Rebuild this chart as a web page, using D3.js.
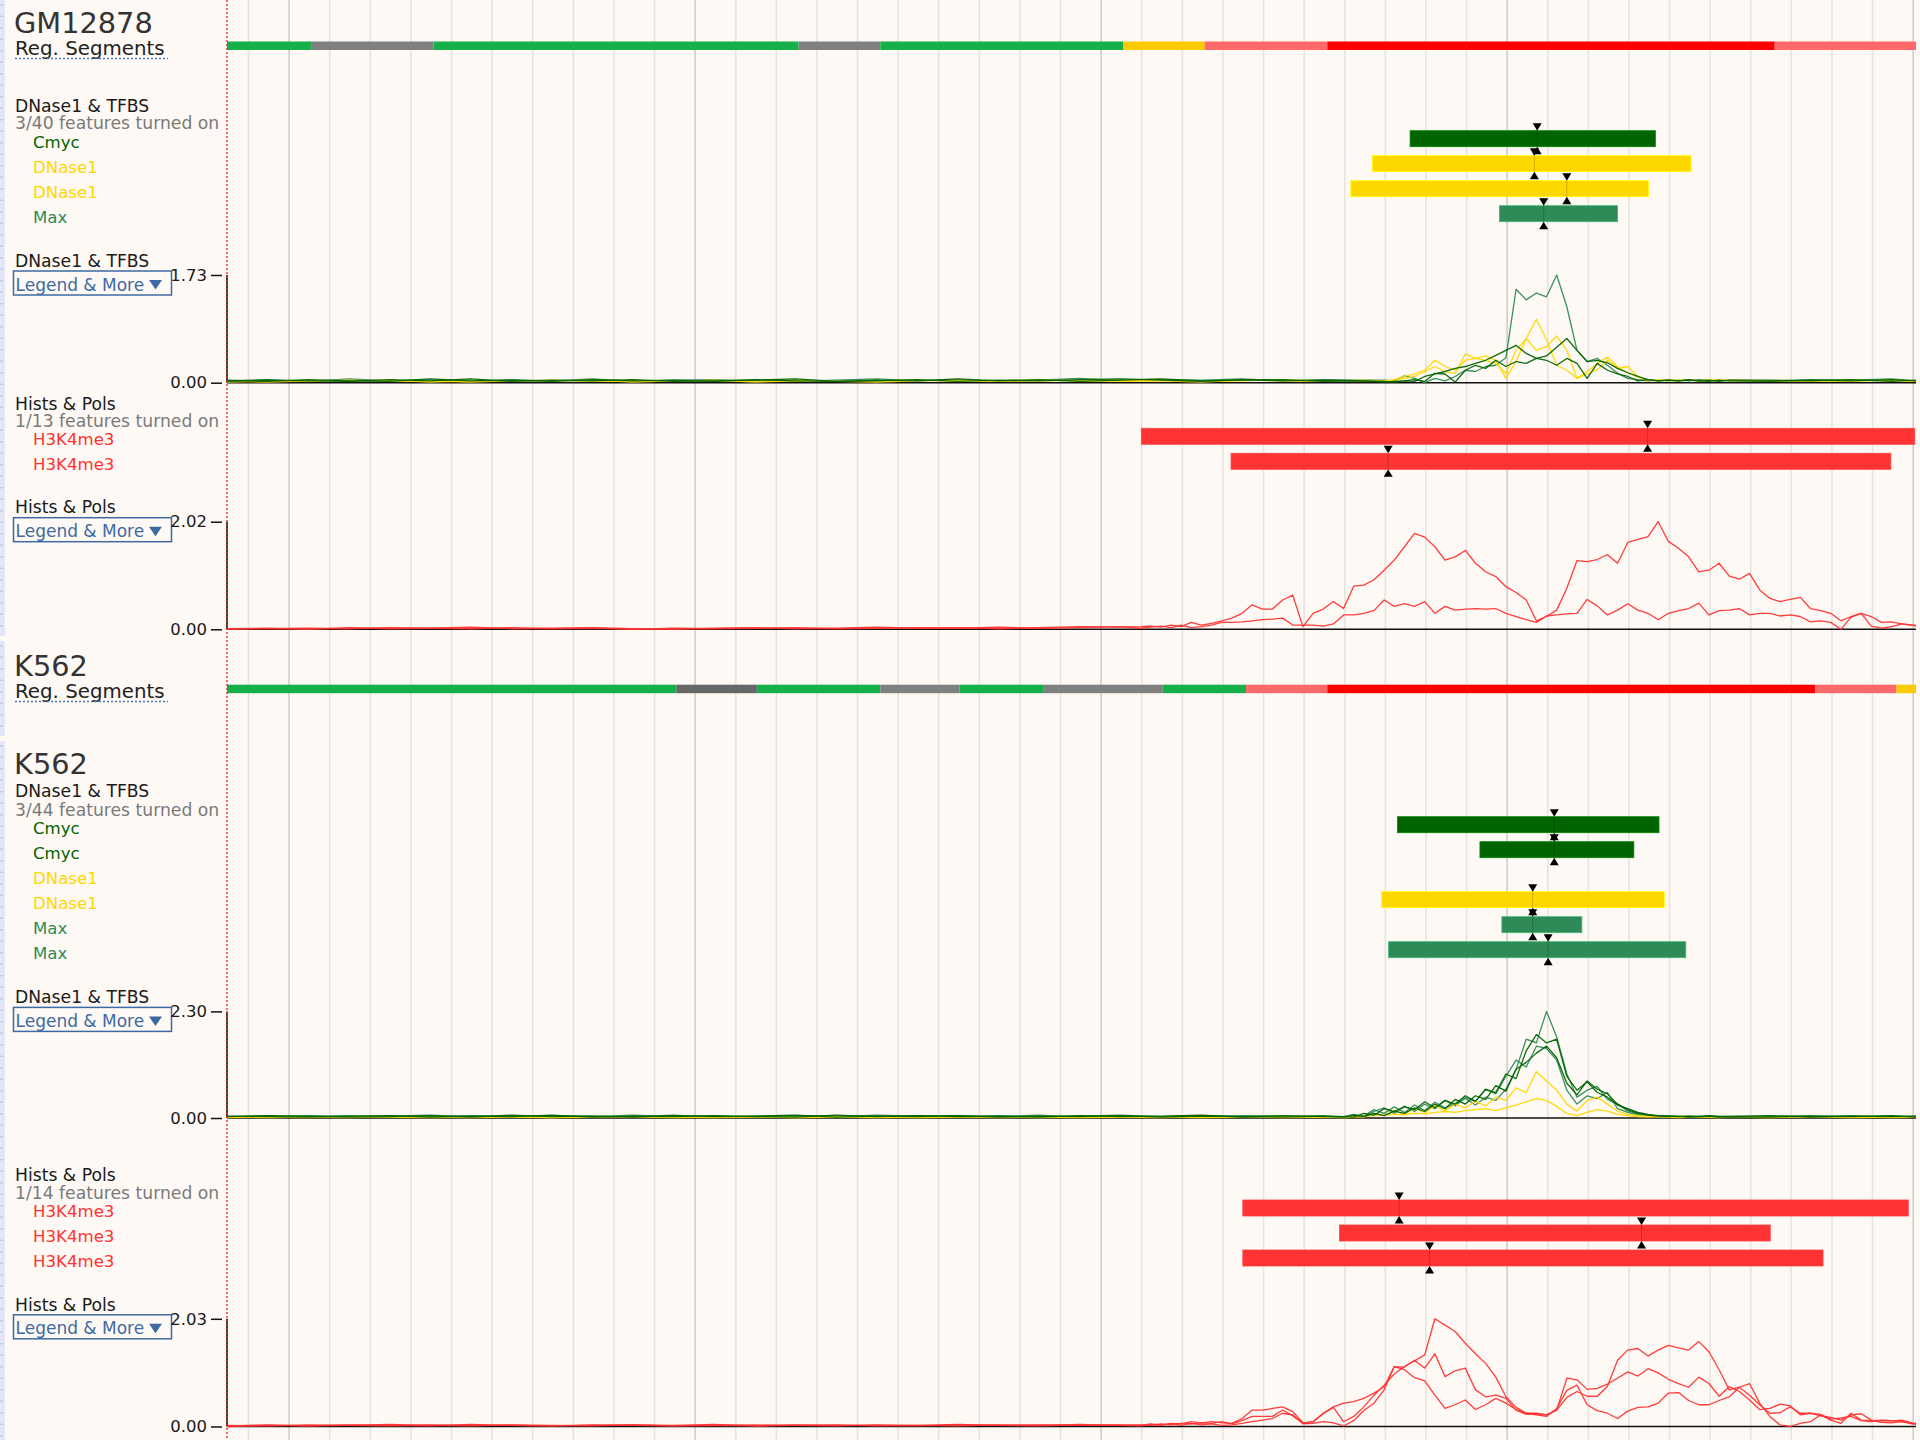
<!DOCTYPE html>
<html>
<head>
<meta charset="utf-8">
<title>Regulation tracks</title>
<script src="https://cdn.jsdelivr.net/npm/d3@7"></script>
<style>
  html, body { margin: 0; padding: 0; background: #fef9f4; }
  svg { display: block; }
  text { font-family: "DejaVu Sans", "Noto Sans", sans-serif; }
</style>
</head>
<body>
<svg id="view" width="1920" height="1440"></svg>
<script>
// ---------- region ----------
const regionStart = 128847;   // first base shown
const regionLength = 4160;    // number of bases shown
// all positions below are offsets (bp) from regionStart

// ---------- regulatory segmentation ----------
const gmSegBounds = [0, 209, 509, 1408, 1609, 2208, 2408, 2710, 3812, 4160];
const gmSegTypes = ['transcribed', 'repressed', 'transcribed', 'repressed', 'transcribed',
                    'enhancer', 'flank', 'promoter', 'flank'];
const k562SegBounds = [0, 1107, 1305, 1609, 1804, 2010, 2305, 2510, 2710, 3912, 4112, 4160];
const k562SegTypes = ['transcribed', 'inactive', 'transcribed', 'repressed', 'transcribed',
                      'repressed', 'transcribed', 'flank', 'promoter', 'flank', 'enhancer'];

// ---------- peak features ----------
const gmDnaseFeatNames = ['Cmyc', 'DNase1', 'DNase1', 'Max'];
const gmDnaseFeatRow = [0, 1, 2, 3];
const gmDnaseFeatStart = [2914, 2821, 2768, 3134];
const gmDnaseFeatEnd = [3518, 3606, 3501, 3425];
const gmDnaseFeatSummit = [3227, 3220, 3300, 3243];

const gmHistFeatNames = ['H3K4me3', 'H3K4me3'];
const gmHistFeatRow = [0, 1];
const gmHistFeatStart = [2252, 2473];
const gmHistFeatEnd = [4157, 4098];
const gmHistFeatSummit = [3499, 2860];

const k562DnaseFeatNames = ['Cmyc', 'Cmyc', 'DNase1', 'DNase1', 'Max', 'Max'];
const k562DnaseFeatRow = [0, 1, 3, 4, 5];
const k562DnaseFeatStart = [2883, 3086, 2844, 3140, 2861];
const k562DnaseFeatEnd = [3527, 3465, 3540, 3337, 3593];
const k562DnaseFeatSummit = [3269, 3269, 3216, 3216, 3254];

const k562HistFeatNames = ['H3K4me3', 'H3K4me3', 'H3K4me3'];
const k562HistFeatRow = [0, 1, 2];
const k562HistFeatStart = [2502, 2740, 2502];
const k562HistFeatEnd = [4141, 3801, 3931];
const k562HistFeatSummit = [2887, 3484, 2962];

// ---------- signal axis maxima ----------
const gmDnaseMaxValue = 1.73;
const gmHistMaxValue = 2.02;
const k562DnaseMaxValue = 2.30;
const k562HistMaxValue = 2.03;

// ---------- signal bins ----------
const gmDnasePos = [0,100,200,300,400,500,600,700,800,900,1000,1100,1200,1300,1400,1500,1600,1700,1800,1900,2000,2100,2200,2300,2400,2500,2600,2700,2800,
  2850,2875,2900,2925,2950,2975,3000,3025,3050,3075,3100,3125,3150,3175,3200,3225,3250,3275,3300,3325,3350,3375,3400,3425,3450,3475,3500,3525,3550,3575,3600,3625,3650,3675,3700,
  3800,3900,4000,4100,4160];

const gmDnaseMax = [.03,.05,.02,.06,.03,.04,.02,.05,.03,.06,.02,.04,.05,.03,.02,.04,.06,.03,.05,.02,.04,.07,.03,.05,.04,.06,.03,.05,.04,
  .04,.03,.11,.07,.00,.07,.03,.10,.20,.18,.26,.28,.40,1.50,1.33,1.44,1.38,1.73,1.22,.52,.34,.39,.28,.15,.07,.05,.03,.04,.03,.04,.03,.05,.04,.03,.04,
  .03,.05,.04,.06,.03];
const gmDnaseCmycA = [.02,.04,.03,.02,.05,.03,.06,.02,.04,.03,.05,.02,.03,.04,.06,.02,.03,.05,.02,.04,.03,.05,.06,.04,.02,.05,.03,.04,.03,
  .02,.01,.03,.02,.10,.14,.18,.23,.26,.31,.36,.44,.52,.60,.47,.39,.43,.57,.71,.52,.34,.36,.32,.23,.16,.10,.05,.03,.04,.03,.04,.03,.04,.02,.04,
  .04,.03,.05,.02,.04];
const gmDnaseCmycB = [.04,.02,.05,.03,.02,.06,.03,.04,.02,.05,.03,.04,.02,.05,.03,.02,.04,.03,.06,.03,.05,.02,.04,.06,.03,.04,.05,.02,.03,
  .01,.02,.03,.05,.02,.15,.14,.01,.20,.28,.23,.36,.26,.34,.31,.39,.36,.28,.39,.31,.07,.31,.20,.14,.10,.03,.05,.03,.04,.03,.05,.03,.02,.04,.03,
  .02,.04,.03,.05,.03];
const gmDnaseDnaseA = [.01,.03,.02,.04,.02,.03,.01,.03,.04,.02,.03,.02,.04,.01,.03,.02,.03,.04,.02,.03,.05,.02,.03,.04,.02,.03,.05,.03,.02,
  .03,.05,.10,.14,.20,.36,.26,.20,.36,.39,.36,.31,.15,.52,.71,1.02,.69,.28,.20,.07,.14,.21,.36,.23,.26,.10,.03,.05,.03,.04,.05,.03,.05,.03,.04,
  .03,.02,.04,.03,.02];
const gmDnaseDnaseB = [.02,.01,.03,.02,.04,.01,.03,.02,.03,.04,.01,.03,.02,.03,.04,.02,.01,.03,.04,.02,.03,.04,.02,.03,.01,.04,.03,.02,.04,
  .02,.04,.07,.10,.18,.26,.18,.15,.46,.39,.43,.36,.07,.34,.71,.52,.58,.75,.52,.07,.18,.31,.41,.26,.16,.09,.04,.03,.05,.03,.04,.03,.04,.05,.03,
  .02,.03,.02,.04,.03];

const histPos = [0,100,200,300,400,500,600,700,800,900,1000,1100,1200,1300,1400,1500,1600,1700,1800,1900,2000,2100,2200,
  2250,2275,2300,2325,2350,2375,2400,2425,2450,2475,2500,2525,2550,2575,2600,2625,2650,2675,2700,2725,2750,2775,2800,2825,2850,2875,
  2900,2925,2950,2975,3000,3025,3050,3075,3100,3125,3150,3175,3200,3225,3250,3275,3300,3325,3350,3375,3400,3425,3450,3475,3500,3525,
  3550,3575,3600,3625,3650,3675,3700,3725,3750,3775,3800,3825,3850,3875,3900,3925,3950,3975,4000,4025,4050,4075,4100,4125,4150,
  4160];

const gmHistA = [.01,.02,.00,.03,.01,.02,.04,.01,.02,.03,.01,.00,.02,.03,.01,.02,.04,.02,.03,.01,.03,.05,.04,
  .05,.06,.04,.08,.05,.13,.08,.11,.16,.21,.30,.46,.38,.38,.55,.64,.05,.30,.38,.52,.39,.81,.83,.93,1.11,1.30,1.55,1.80,1.73,1.55,
  1.30,1.36,1.48,1.24,1.08,.99,.80,.69,.55,.16,.24,.36,.77,1.29,1.27,1.31,1.40,1.24,1.63,1.69,1.74,2.02,1.65,1.52,1.36,1.08,
  1.11,1.24,1.00,.94,1.05,.74,.58,.52,.56,.60,.39,.35,.30,.16,.24,.30,.24,.13,.14,.10,.08,
  .08];
const gmHistB = [.00,.01,.02,.01,.03,.02,.01,.03,.01,.02,.00,.02,.01,.02,.03,.01,.02,.03,.02,.04,.02,.03,.05,
  .02,.04,.06,.03,.08,.03,.05,.08,.13,.13,.14,.16,.18,.19,.21,.08,.08,.08,.06,.10,.27,.27,.30,.35,.55,.43,.48,.43,.52,.30,
  .43,.36,.38,.39,.38,.39,.30,.24,.18,.13,.25,.27,.29,.30,.56,.44,.27,.36,.48,.36,.30,.18,.30,.35,.39,.49,.27,.35,
  .36,.39,.27,.30,.30,.25,.27,.24,.14,.16,.13,.00,.23,.30,.06,.02,.05,.10,.08,
  .06];

const k562DnasePos = [0,100,200,300,400,500,600,700,800,900,1000,1100,1200,1300,1400,1500,1600,1700,1800,1900,2000,2100,2200,2300,2400,2500,2600,2700,
  2750,2775,2800,2825,2850,2875,2900,2925,2950,2975,3000,3025,3050,3075,3100,3125,3150,3175,3200,3225,3250,3275,3300,3325,3350,3375,3400,
  3425,3450,3475,3500,3525,3550,3575,3600,3625,3650,3675,3700,
  3800,3900,4000,4100,4160];

const k562DnaseMaxA = [.03,.02,.05,.03,.04,.06,.03,.02,.05,.04,.03,.06,.02,.04,.05,.03,.06,.04,.02,.05,.03,.04,.06,.03,.05,.04,.03,.05,
  .03,.08,.04,.18,.10,.24,.12,.28,.16,.34,.22,.30,.42,.28,.45,.38,.62,1.05,1.70,1.62,2.30,1.75,.95,.45,.60,.68,.40,.30,.15,.10,
  .06,.04,.05,.03,.04,.03,.05,.04,.03,
  .04,.03,.05,.02,.04];
const k562DnaseMaxB = [.02,.04,.03,.05,.02,.03,.05,.04,.02,.03,.06,.03,.04,.02,.05,.03,.02,.04,.05,.03,.06,.02,.04,.03,.02,.05,.04,.02,
  .02,.06,.03,.14,.22,.10,.26,.14,.30,.20,.38,.26,.44,.36,.62,.52,.90,1.25,1.10,1.55,1.50,1.25,.60,.30,.48,.42,.55,.20,.12,.07,
  .05,.03,.04,.02,.03,.04,.02,.03,.04,
  .03,.05,.02,.04,.03];
const k562DnaseCmycA = [.04,.03,.02,.04,.05,.02,.04,.03,.06,.02,.04,.03,.05,.03,.02,.06,.03,.05,.03,.04,.02,.05,.03,.04,.06,.02,.05,.03,
  .03,.02,.10,.06,.20,.14,.24,.18,.35,.22,.38,.30,.48,.36,.62,.55,.95,.85,1.45,1.80,1.62,1.70,.90,.60,.78,.55,.45,.28,.20,.12,
  .08,.05,.04,.03,.04,.03,.04,.03,.02,
  .02,.04,.03,.05,.02];
const k562DnaseCmycB = [.03,.05,.04,.02,.03,.05,.02,.06,.03,.04,.02,.05,.03,.04,.06,.02,.04,.03,.05,.02,.04,.03,.05,.02,.04,.03,.02,.04,
  .02,.06,.03,.10,.05,.15,.10,.22,.14,.30,.20,.40,.30,.48,.40,.70,.58,1.05,1.20,1.40,1.55,1.30,.75,.50,.80,.62,.52,.30,.18,.10,
  .06,.04,.03,.04,.02,.03,.04,.02,.03,
  .05,.02,.04,.03,.04];
const k562DnaseDnaseA = [.01,.02,.01,.03,.02,.01,.02,.03,.01,.02,.03,.01,.02,.02,.01,.03,.02,.01,.02,.03,.01,.02,.03,.02,.01,.02,.03,.02,
  .02,.05,.02,.10,.06,.16,.08,.20,.12,.26,.16,.30,.22,.36,.26,.45,.38,.65,.55,1.00,.80,.60,.30,.15,.38,.45,.30,.15,.08,.05,
  .04,.03,.02,.03,.04,.02,.03,.02,.03,
  .02,.03,.01,.02,.03];
const k562DnaseDnaseB = [.02,.01,.02,.01,.03,.02,.01,.02,.01,.03,.02,.02,.01,.03,.01,.02,.01,.02,.03,.01,.02,.01,.02,.01,.03,.02,.01,.02,
  .01,.02,.03,.05,.06,.08,.07,.10,.09,.12,.14,.12,.16,.18,.20,.16,.22,.28,.35,.42,.38,.25,.10,.05,.12,.18,.15,.08,.05,.03,
  .02,.03,.02,.01,.02,.03,.02,.01,.02,
  .01,.02,.03,.01,.02];

const k562HistA = [.01,.03,.01,.02,.04,.02,.01,.03,.02,.01,.03,.02,.04,.01,.02,.03,.01,.02,.04,.02,.03,.02,.03,
  .02,.05,.03,.06,.05,.09,.07,.09,.07,.06,.15,.31,.31,.34,.37,.28,.07,.09,.24,.36,.09,.19,.37,.59,.78,.99,1.13,1.24,1.35,2.03,
  1.91,1.79,1.57,1.37,1.19,.93,.56,.36,.25,.25,.22,.31,.55,.66,.57,.57,.76,1.25,1.44,1.47,1.33,1.44,1.53,1.48,1.44,1.60,1.41,1.07,
  .69,.74,.59,.41,.25,.26,.37,.25,.25,.20,.17,.12,.22,.24,.12,.11,.10,.12,.07,
  .06];
const k562HistB = [.02,.01,.03,.02,.01,.03,.02,.02,.01,.03,.02,.01,.02,.03,.02,.01,.03,.02,.01,.03,.02,.04,.02,
  .03,.02,.05,.03,.06,.05,.07,.06,.09,.05,.11,.19,.19,.19,.31,.20,.06,.09,.25,.37,.44,.47,.53,.63,.75,1.13,1.12,1.25,1.10,1.37,
  .94,1.05,1.10,.69,.56,.59,.53,.31,.23,.24,.22,.31,.91,.88,.70,.72,.80,.91,1.03,.95,1.09,1.01,.89,.81,.74,.93,.81,.57,
  .75,.66,.50,.32,.34,.42,.39,.22,.25,.23,.14,.16,.19,.11,.09,.12,.11,.09,.06,
  .04];
const k562HistC = [.00,.02,.01,.03,.02,.01,.04,.02,.01,.02,.03,.01,.02,.01,.03,.02,.02,.01,.03,.02,.01,.03,.02,
  .01,.03,.02,.05,.02,.06,.03,.05,.02,.03,.06,.09,.12,.15,.25,.22,.05,.06,.09,.07,.01,.11,.30,.44,.69,1.13,1.07,.92,.86,.59,
  .34,.41,.50,.32,.41,.53,.44,.32,.25,.22,.19,.34,.68,.78,.41,.30,.25,.15,.29,.36,.37,.44,.63,.64,.49,.41,.41,.49,
  .56,.74,.81,.44,.19,.03,.00,.06,.09,.22,.12,.06,.25,.12,.11,.08,.07,.09,.05,
  .05];

// ---------- colours ----------
const segColours = {
  transcribed: '#15b04a', repressed: '#808080', inactive: '#676767',
  enhancer: '#facb00', flank: '#ff6969', promoter: '#ff0000'
};
const trackColours = { Cmyc: '#006400', DNase1: '#ffd700', Max: '#2e8b57', H3K4me3: '#ff3333' };

// ---------- drawing ----------
const W = 1920, H = 1440;
const plotLeft = 227, plotRight = 1916;
const svg = d3.select('#view');
const x = d3.scaleLinear().domain([regionStart, regionStart + regionLength]).range([plotLeft, plotRight]);
const px = off => x(regionStart + off);

svg.append('rect').attr('width', W).attr('height', H).attr('fill', '#fef9f4');

// side strip of the image panels
const strip = svg.append('g');
[[0, 636], [641, 736], [741, 1440]].forEach(([a, b]) => {
  strip.append('rect').attr('x', 0).attr('y', a).attr('width', 5).attr('height', b - a).attr('fill', '#e3e6f7');
  strip.append('line').attr('x1', 1.5).attr('x2', 1.5).attr('y1', a + 4).attr('y2', b)
    .attr('stroke', '#a9b1d6').attr('stroke-width', 1.5).attr('stroke-dasharray', '1.5,10');
});

// base-pair grid
const gridTicks = d3.range(Math.ceil(regionStart / 100) * 100, regionStart + regionLength + 1, 100);
svg.append('g').selectAll('line').data(gridTicks).join('line')
  .attr('x1', d => x(d)).attr('x2', d => x(d)).attr('y1', 0).attr('y2', H)
  .attr('stroke', d => d % 1000 === 0 ? '#d2cdc9' : '#e7e3df')
  .attr('stroke-width', 1.6);

const layer = svg.append('g');
const headerSize = 17.2;

function title(txt, y) {
  layer.append('text').attr('x', 14).attr('y', y).attr('font-size', 28.8).attr('fill', '#333').text(txt);
}

function regSegments(bounds, types, labelY, barY) {
  layer.append('text').attr('x', 15).attr('y', labelY).attr('font-size', 19.8).attr('fill', '#222').text('Reg. Segments');
  layer.append('line').attr('x1', 15).attr('x2', 168).attr('y1', labelY + 3.5).attr('y2', labelY + 3.5)
    .attr('stroke', '#4a78b8').attr('stroke-width', 1.3).attr('stroke-dasharray', '2,2');
  const segs = types.map((t, i) => ({ type: t, s: bounds[i], e: bounds[i + 1] }));
  layer.append('g').selectAll('rect').data(segs).join('rect')
    .attr('x', d => px(d.s)).attr('width', d => px(d.e) - px(d.s))
    .attr('y', barY).attr('height', 8.5)
    .attr('fill', d => segColours[d.type]);
}

function featureTrack(cfg) {
  const g = layer.append('g');
  g.append('text').attr('x', 15).attr('y', cfg.headerY).attr('font-size', headerSize).attr('fill', '#1a1a1a').text(cfg.header);
  g.append('text').attr('x', 15).attr('y', cfg.countY).attr('font-size', headerSize).attr('fill', '#7a7a7a').text(cfg.count);
  const rowH = 25, barH = 16;
  g.append('g').selectAll('text').data(cfg.names).join('text')
    .attr('x', 33).attr('y', (d, i) => cfg.rowTop + i * rowH + 17)
    .attr('font-size', 16.6).attr('fill', d => trackColours[d]).text(d => d);
  const feats = cfg.rows.map((r, j) => ({
    row: r, name: cfg.names[r], s: cfg.starts[j], e: cfg.ends[j], summit: cfg.summits[j]
  }));
  g.append('g').selectAll('rect').data(feats).join('rect')
    .attr('x', d => px(d.s)).attr('width', d => px(d.e) - px(d.s))
    .attr('y', d => cfg.rowTop + d.row * rowH).attr('height', barH)
    .attr('fill', d => trackColours[d.name])
    .attr('stroke', d => d3.color(trackColours[d.name]).brighter(0.8)).attr('stroke-width', 0.8);
  const marks = g.append('g');
  feats.forEach(d => {
    const sx = px(d.summit), top = cfg.rowTop + d.row * rowH, bot = top + barH;
    marks.append('line').attr('x1', sx).attr('x2', sx).attr('y1', top).attr('y2', bot)
      .attr('stroke', '#000').attr('stroke-opacity', 0.2).attr('stroke-width', 1);
    marks.append('path').attr('d', `M${sx - 4.5},${top - 7.5}H${sx + 4.5}L${sx},${top}Z`).attr('fill', '#000');
    marks.append('path').attr('d', `M${sx - 4.5},${bot + 7.5}H${sx + 4.5}L${sx},${bot}Z`).attr('fill', '#000');
  });
}

function signalTrack(cfg) {
  const g = layer.append('g');
  const y = d3.scaleLinear().domain([0, cfg.max]).range([cfg.zero, cfg.top]);
  // header and legend button
  g.append('text').attr('x', 15).attr('y', cfg.top - 8.3).attr('font-size', headerSize).attr('fill', '#1a1a1a').text(cfg.header);
  g.append('rect').attr('x', 13.5).attr('y', cfg.top - 4).attr('width', 158).attr('height', 24)
    .attr('fill', 'none').attr('stroke', '#3d6aa3').attr('stroke-width', 1.5);
  g.append('text').attr('x', 15.5).attr('y', cfg.top + 15.5).attr('font-size', 17).attr('fill', '#3d6aa3').text('Legend & More');
  g.append('path').attr('d', `M149,${cfg.top + 5}H162L155.5,${cfg.top + 14.5}Z`).attr('fill', '#3d6aa3');
  // value axis
  const axis = d3.axisLeft(y).tickValues([0, cfg.max]).tickFormat(d3.format('.2f'))
    .tickSize(11).tickPadding(4);
  const ag = g.append('g').attr('transform', 'translate(222,0)').call(axis);
  ag.select('.domain').remove();
  ag.selectAll('line').attr('stroke', '#111').attr('stroke-width', 1.5);
  ag.selectAll('text').attr('font-size', 16.5).attr('fill', '#1a1a1a')
    .attr('font-family', '"DejaVu Sans", sans-serif');
  g.append('line').attr('x1', plotLeft).attr('x2', plotLeft).attr('y1', cfg.top).attr('y2', cfg.zero)
    .attr('stroke', '#000').attr('stroke-width', 1.5);
  // zero line
  g.append('line').attr('x1', plotLeft).attr('x2', plotRight).attr('y1', cfg.zero).attr('y2', cfg.zero)
    .attr('stroke', '#111').attr('stroke-width', 1.4);
  // signal lines
  const line = d3.line().x(d => px(d[0])).y(d => y(d[1]));
  cfg.series.forEach(s => {
    g.append('path').datum(d3.zip(cfg.pos, s.values))
      .attr('d', line).attr('fill', 'none')
      .attr('stroke', trackColours[s.name]).attr('stroke-width', 1.3)
      .attr('stroke-linejoin', 'round').attr('stroke-opacity', 0.95);
  });
}

// ---------- GM12878 ----------
title('GM12878', 33);
regSegments(gmSegBounds, gmSegTypes, 55, 41.5);
featureTrack({
  header: 'DNase1 & TFBS', count: '3/40 features turned on', headerY: 111.7, countY: 129.3, rowTop: 130.7,
  names: gmDnaseFeatNames, rows: gmDnaseFeatRow, starts: gmDnaseFeatStart, ends: gmDnaseFeatEnd, summits: gmDnaseFeatSummit
});
signalTrack({
  header: 'DNase1 & TFBS', max: gmDnaseMaxValue, top: 275, zero: 382.7, pos: gmDnasePos,
  series: [
    { name: 'Max', values: gmDnaseMax },
    { name: 'DNase1', values: gmDnaseDnaseA },
    { name: 'DNase1', values: gmDnaseDnaseB },
    { name: 'Cmyc', values: gmDnaseCmycA },
    { name: 'Cmyc', values: gmDnaseCmycB }
  ]
});
featureTrack({
  header: 'Hists & Pols', count: '1/13 features turned on', headerY: 410, countY: 426.7, rowTop: 428.3,
  names: gmHistFeatNames, rows: gmHistFeatRow, starts: gmHistFeatStart, ends: gmHistFeatEnd, summits: gmHistFeatSummit
});
signalTrack({
  header: 'Hists & Pols', max: gmHistMaxValue, top: 521.7, zero: 629.3, pos: histPos,
  series: [
    { name: 'H3K4me3', values: gmHistA },
    { name: 'H3K4me3', values: gmHistB }
  ]
});

// ---------- K562 ----------
title('K562', 676);
regSegments(k562SegBounds, k562SegTypes, 698, 684.7);
title('K562', 774.3);
featureTrack({
  header: 'DNase1 & TFBS', count: '3/44 features turned on', headerY: 797.3, countY: 815.7, rowTop: 816.7,
  names: k562DnaseFeatNames, rows: k562DnaseFeatRow, starts: k562DnaseFeatStart, ends: k562DnaseFeatEnd, summits: k562DnaseFeatSummit
});
signalTrack({
  header: 'DNase1 & TFBS', max: k562DnaseMaxValue, top: 1011.4, zero: 1118, pos: k562DnasePos,
  series: [
    { name: 'Max', values: k562DnaseMaxA },
    { name: 'Max', values: k562DnaseMaxB },
    { name: 'DNase1', values: k562DnaseDnaseA },
    { name: 'DNase1', values: k562DnaseDnaseB },
    { name: 'Cmyc', values: k562DnaseCmycA },
    { name: 'Cmyc', values: k562DnaseCmycB }
  ]
});
featureTrack({
  header: 'Hists & Pols', count: '1/14 features turned on', headerY: 1181, countY: 1198.5, rowTop: 1200,
  names: k562HistFeatNames, rows: k562HistFeatRow, starts: k562HistFeatStart, ends: k562HistFeatEnd, summits: k562HistFeatSummit
});
signalTrack({
  header: 'Hists & Pols', max: k562HistMaxValue, top: 1318.8, zero: 1426.5, pos: histPos,
  series: [
    { name: 'H3K4me3', values: k562HistA },
    { name: 'H3K4me3', values: k562HistB },
    { name: 'H3K4me3', values: k562HistC }
  ]
});

// region start marker
svg.append('line').attr('x1', plotLeft).attr('x2', plotLeft).attr('y1', 0).attr('y2', H)
  .attr('stroke', '#ff1a1a').attr('stroke-width', 1.3).attr('stroke-dasharray', '2,2');
</script>
</body>
</html>
